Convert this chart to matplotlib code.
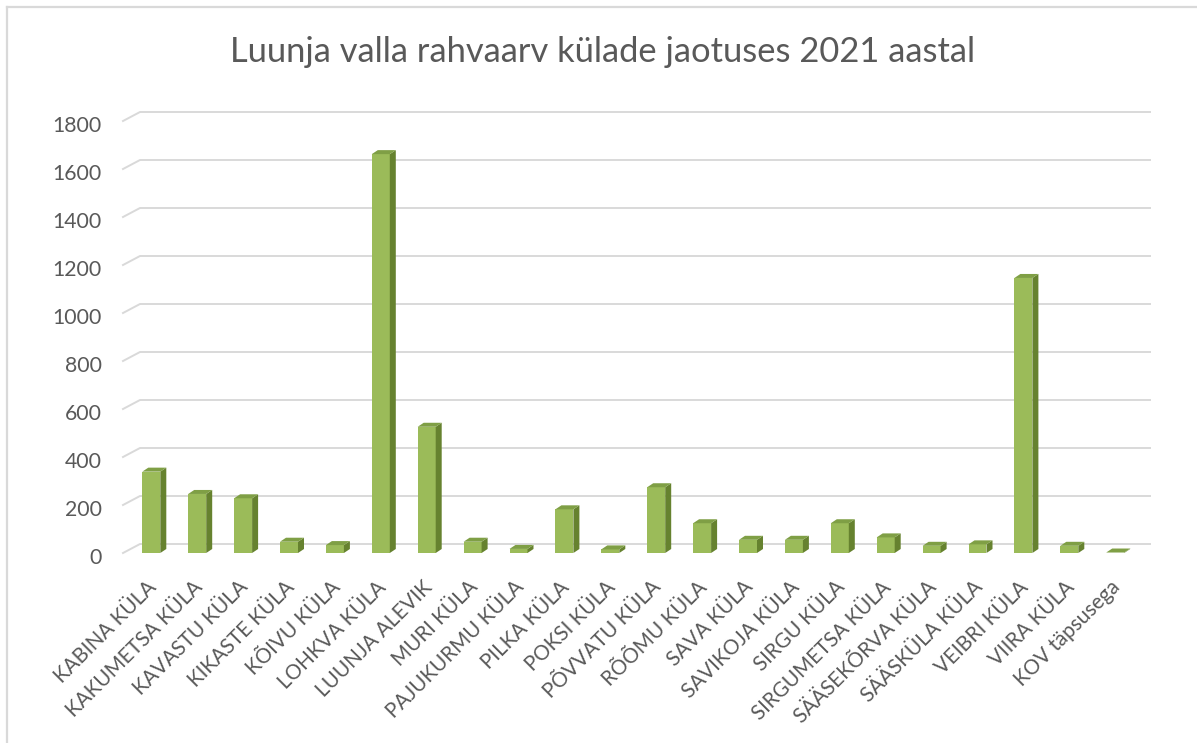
import matplotlib
matplotlib.use('Agg')
import matplotlib.pyplot as plt
from matplotlib.patches import Polygon
from matplotlib.lines import Line2D
import matplotlib.transforms as mtransforms

# ---------------- data ----------------
categories = [
    "KABINA KÜLA", "KAKUMETSA KÜLA", "KAVASTU KÜLA", "KIKASTE KÜLA", "KÕIVU KÜLA",
    "LOHKVA KÜLA", "LUUNJA ALEVIK", "MURI KÜLA", "PAJUKURMU KÜLA", "PILKA KÜLA",
    "POKSI KÜLA", "PÕVVATU KÜLA", "RÕÕMU KÜLA", "SAVA KÜLA", "SAVIKOJA KÜLA",
    "SIRGU KÜLA", "SIRGUMETSA KÜLA", "SÄÄSEKÕRVA KÜLA", "SÄÄSKÜLA KÜLA",
    "VEIBRI KÜLA", "VIIRA KÜLA", "KOV täpsusega",
]
values = [339, 246, 228, 47, 33, 1662, 526, 47, 17, 182,
          15, 274, 124, 55, 55, 124, 65, 30, 36, 1146, 30, 2]
y_ticks = [0, 200, 400, 600, 800, 1000, 1200, 1400, 1600, 1800]
title = "Luunja valla rahvaarv külade jaotuses 2021 aastal"

# ---------------- style / layout ----------------
W, H, DPI = 1197, 743, 100
plt.rcParams['font.family'] = ['Lato', 'DejaVu Sans']
TEXT = '#595959'
GRID = '#D9D9D9'
FRONT = '#9BBB59'
SIDE = '#66822F'
TOP = '#7F9F45'

fig = plt.figure(figsize=(W / DPI, H / DPI), dpi=DPI)
fig.patch.set_facecolor('white')
renderer = fig.canvas.get_renderer()

def fit_size(text, target_px, base=12.0):
    t = fig.text(0, 0, text, fontsize=base)
    w = t.get_window_extent(renderer).width
    t.remove()
    return base * target_px / w

ax_left, ax_right, ax_top, ax_bottom = 123, 1133, 121, 553
ax = fig.add_axes([ax_left / W, 1 - ax_bottom / H,
                   (ax_right - ax_left) / W, (ax_bottom - ax_top) / H])
first_center_px, spacing_px = 151.3, 45.9
x0 = (ax_left - first_center_px) / spacing_px
x1 = (ax_right - first_center_px) / spacing_px
ax.set_xlim(x0, x1)
ax.set_ylim(y_ticks[0], y_ticks[-1])
ax.patch.set_visible(False)
for s in ax.spines.values():
    s.set_visible(False)

ux = 1.0 / spacing_px                                   # data units per px (x)
uy = (y_ticks[-1] - y_ticks[0]) / (ax_bottom - ax_top)  # data units per px (y)

# back wall gridlines (3D look)
wall_dx, wall_dy = 17 * ux, 9 * uy
for v in y_ticks:
    ax.plot([x0, x0 + wall_dx, x1 + wall_dx], [v, v + wall_dy, v + wall_dy],
            color=GRID, lw=1.4, clip_on=False, zorder=1)

# bars with pseudo-3D faces
bw = 18 / spacing_px
bdx, bdy = 6 * ux, 4 * uy
pos = list(range(len(categories)))
ax.bar(pos, values, width=bw, color=FRONT, zorder=3, linewidth=0)
for i, v in zip(pos, values):
    xl, xr = i - bw / 2, i + bw / 2
    ax.add_patch(Polygon([(xr, 0), (xr + bdx, bdy), (xr + bdx, v + bdy), (xr, v)],
                         closed=True, facecolor=SIDE, edgecolor='none',
                         zorder=3, clip_on=False))
    ax.add_patch(Polygon([(xl, v), (xr, v), (xr + bdx, v + bdy), (xl + bdx, v + bdy)],
                         closed=True, facecolor=TOP, edgecolor='none',
                         zorder=3, clip_on=False))

# ticks / labels
y_fs = fit_size("1800", 49)
x_fs = fit_size("KABINA KÜLA", 135)
ax.set_yticks(y_ticks)
ax.set_yticklabels([str(v) for v in y_ticks], fontsize=y_fs, color=TEXT)
ax.tick_params(axis='y', length=0, pad=21 * 72 / DPI)
yshift = mtransforms.ScaledTranslation(0, -3 / DPI, fig.dpi_scale_trans)
for lab in ax.get_yticklabels():
    lab.set_transform(lab.get_transform() + yshift)
ax.set_xticks(pos)
ax.set_xticklabels(categories, fontsize=x_fs, color=TEXT, rotation=45,
                   ha='right', va='top', rotation_mode='anchor')
ax.tick_params(axis='x', length=0, pad=24 * 72 / DPI)
xshift = mtransforms.ScaledTranslation(-5 / DPI, 0, fig.dpi_scale_trans)
for lab in ax.get_xticklabels():
    lab.set_transform(lab.get_transform() + xshift)

# title
t_fs = fit_size(title, 743)
fig.text(603 / W, 1 - 52 / H, title, fontsize=t_fs, color=TEXT,
         ha='center', va='center')

# frame (top and left edges visible in the screenshot)
fig.add_artist(Line2D([7 / W, 7 / W], [0, 1 - 7 / H], color=GRID, lw=1.6))
fig.add_artist(Line2D([7 / W, 1], [1 - 7 / H, 1 - 7 / H], color=GRID, lw=1.6))

fig.savefig('out.png', dpi=DPI, facecolor='white')
